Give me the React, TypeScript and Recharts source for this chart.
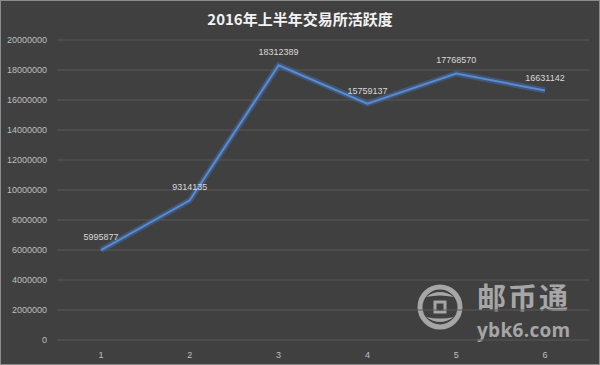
import React from 'react';
import { LineChart, Line, XAxis, YAxis, CartesianGrid, LabelList } from 'recharts';

const months = ['1', '2', '3', '4', '5', '6'];
const activity = [5995877, 9314135, 18312389, 15759137, 17768570, 16631142];
const yTicks = [0, 2000000, 4000000, 6000000, 8000000, 10000000, 12000000, 14000000, 16000000, 18000000, 20000000];

const data = months.map((m, i) => ({ m, v: activity[i] }));

const font = '"Liberation Sans", Arial, sans-serif';
const wm = '#a6a6a6';

export default function App() {
  return (
    <div
      style={{
        position: 'absolute',
        left: 0,
        top: 0,
        width: 600,
        height: 365,
        background: '#404040',
        boxSizing: 'border-box',
        border: '1px solid #8c8c8c',
        overflow: 'hidden',
      }}
    >
      {/* watermark logo */}
      <svg width={50} height={50} style={{ position: 'absolute', left: 414, top: 281 }}>
        <circle cx={25} cy={25} r={20} fill="none" stroke={wm} strokeWidth={5} />
        <path d="M11 15 Q25 5 39 15 Q25 12 11 15 Z" fill={wm} />
        <path d="M11 35 Q25 45 39 35 Q25 38 11 35 Z" fill={wm} />
        <rect x={20} y={20} width={10} height={10} fill="none" stroke={wm} strokeWidth={3} />
      </svg>
      <div
        style={{
          position: 'absolute',
          left: 476,
          top: 281,
          color: wm,
          fontSize: 29,
          lineHeight: '29px',
          fontWeight: 700,
          fontFamily: '"Noto Sans CJK SC", sans-serif',
          letterSpacing: 2,
        }}
      >
        邮币通
      </div>
      <div
        style={{
          position: 'absolute',
          left: 476,
          top: 320,
          color: wm,
          fontSize: 19,
          lineHeight: '19px',
          fontWeight: 700,
          fontFamily: '"Open Sans", sans-serif',
          letterSpacing: 0.3,
        }}
      >
        ybk6.com
      </div>
      <div
        style={{
          position: 'absolute',
          left: 0,
          top: 9,
          width: 598,
          textAlign: 'center',
          color: '#f2f2f2',
          fontSize: 15,
          fontWeight: 700,
          fontFamily: '"Noto Sans CJK SC", sans-serif',
          lineHeight: '18px',
        }}
      >
        2016年上半年交易所活跃度
      </div>
      <LineChart
        width={600}
        height={365}
        data={data}
        margin={{ top: 40, right: 11, left: 6, bottom: 0 }}
        style={{ position: 'absolute', left: -1, top: -1 }}
      >
        <CartesianGrid vertical={false} stroke="#595959" strokeWidth={1} />
        <XAxis
          dataKey="m"
          axisLine={false}
          tickLine={false}
          tickSize={0}
          tickMargin={12}
          height={25}
          padding={{ left: 44, right: 44 }}
          tick={{ fill: '#bfbfbf', fontSize: 9, fontFamily: font }}
        />
        <YAxis
          domain={[0, 20000000]}
          ticks={yTicks}
          width={51}
          axisLine={false}
          tickLine={false}
          tickSize={0}
          tickMargin={10}
          tick={{ fill: '#bfbfbf', fontSize: 9, fontFamily: font }}
        />
        <Line
          dataKey="v"
          type="linear"
          stroke="#3f6aa6"
          strokeOpacity={0.55}
          strokeWidth={6}
          dot={false}
          activeDot={false}
          isAnimationActive={false}
        />
        <Line
          dataKey="v"
          type="linear"
          stroke="#5a8bd2"
          strokeWidth={2}
          dot={false}
          activeDot={false}
          isAnimationActive={false}
        >
          <LabelList dataKey="v" position="top" offset={10} fill="#d9d9d9" fontSize={9} fontFamily={font} />
        </Line>
      </LineChart>
    </div>
  );
}
